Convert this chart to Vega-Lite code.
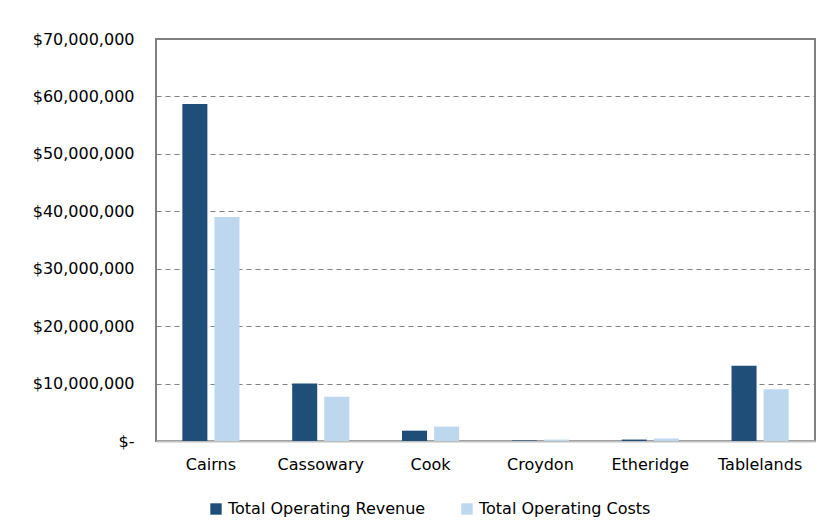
{
  "$schema": "https://vega.github.io/schema/vega-lite/v6.json",
  "width": 659,
  "height": 402,
  "autosize": "none",
  "padding": {"left": 156, "top": 39, "right": 12, "bottom": 90},
  "background": "white",
  "data": {
    "values": [
      {"region": "Cairns", "series": "Total Operating Revenue", "value": 58700000},
      {"region": "Cairns", "series": "Total Operating Costs", "value": 39000000},
      {"region": "Cassowary", "series": "Total Operating Revenue", "value": 10000000},
      {"region": "Cassowary", "series": "Total Operating Costs", "value": 7700000},
      {"region": "Cook", "series": "Total Operating Revenue", "value": 1800000},
      {"region": "Cook", "series": "Total Operating Costs", "value": 2500000},
      {"region": "Croydon", "series": "Total Operating Revenue", "value": 100000},
      {"region": "Croydon", "series": "Total Operating Costs", "value": 250000},
      {"region": "Etheridge", "series": "Total Operating Revenue", "value": 250000},
      {"region": "Etheridge", "series": "Total Operating Costs", "value": 450000},
      {"region": "Tablelands", "series": "Total Operating Revenue", "value": 13100000},
      {"region": "Tablelands", "series": "Total Operating Costs", "value": 9000000}
    ]
  },
  "mark": {"type": "bar"},
  "encoding": {
    "x": {
      "field": "region",
      "type": "nominal",
      "sort": null,
      "scale": {"paddingInner": 0.48, "paddingOuter": 0.24},
      "axis": {
        "title": null,
        "labelAngle": 0,
        "labelFont": "DejaVu Sans",
        "labelFontSize": 16,
        "labelColor": "#000000",
        "labelPadding": 15,
        "ticks": false,
        "domainColor": "#BFBFBF",
        "domainWidth": 2
      }
    },
    "xOffset": {
      "field": "series",
      "type": "nominal",
      "sort": ["Total Operating Revenue", "Total Operating Costs"],
      "scale": {"paddingInner": 0.22, "paddingOuter": 0}
    },
    "y": {
      "field": "value",
      "type": "quantitative",
      "scale": {"domain": [0, 70000000], "nice": false},
      "axis": {
        "title": null,
        "values": [0, 10000000, 20000000, 30000000, 40000000, 50000000, 60000000, 70000000],
        "labelExpr": "datum.value == 0 ? '$-' : '$' + format(datum.value, ',')",
        "labelFont": "DejaVu Sans",
        "labelFontSize": 16,
        "labelColor": "#000000",
        "labelPadding": 22,
        "labelLimit": 0,
        "ticks": false,
        "domain": false,
        "grid": true,
        "gridColor": "#808080",
        "gridDash": [5, 4],
        "gridWidth": 1.2
      }
    },
    "color": {
      "field": "series",
      "type": "nominal",
      "sort": ["Total Operating Revenue", "Total Operating Costs"],
      "scale": {"range": ["#1F4E79", "#BDD7EE"]},
      "legend": {
        "title": null,
        "orient": "none",
        "legendX": 52,
        "legendY": 462,
        "direction": "horizontal",
        "symbolType": "square",
        "symbolSize": 130,
        "symbolStrokeWidth": 0,
        "labelFont": "DejaVu Sans",
        "labelFontSize": 16,
        "labelColor": "#000000",
        "labelOffset": 4,
        "labelLimit": 0,
        "columnPadding": 33
      }
    }
  },
  "config": {
    "view": {"stroke": "#808080", "strokeWidth": 2}
  }
}
